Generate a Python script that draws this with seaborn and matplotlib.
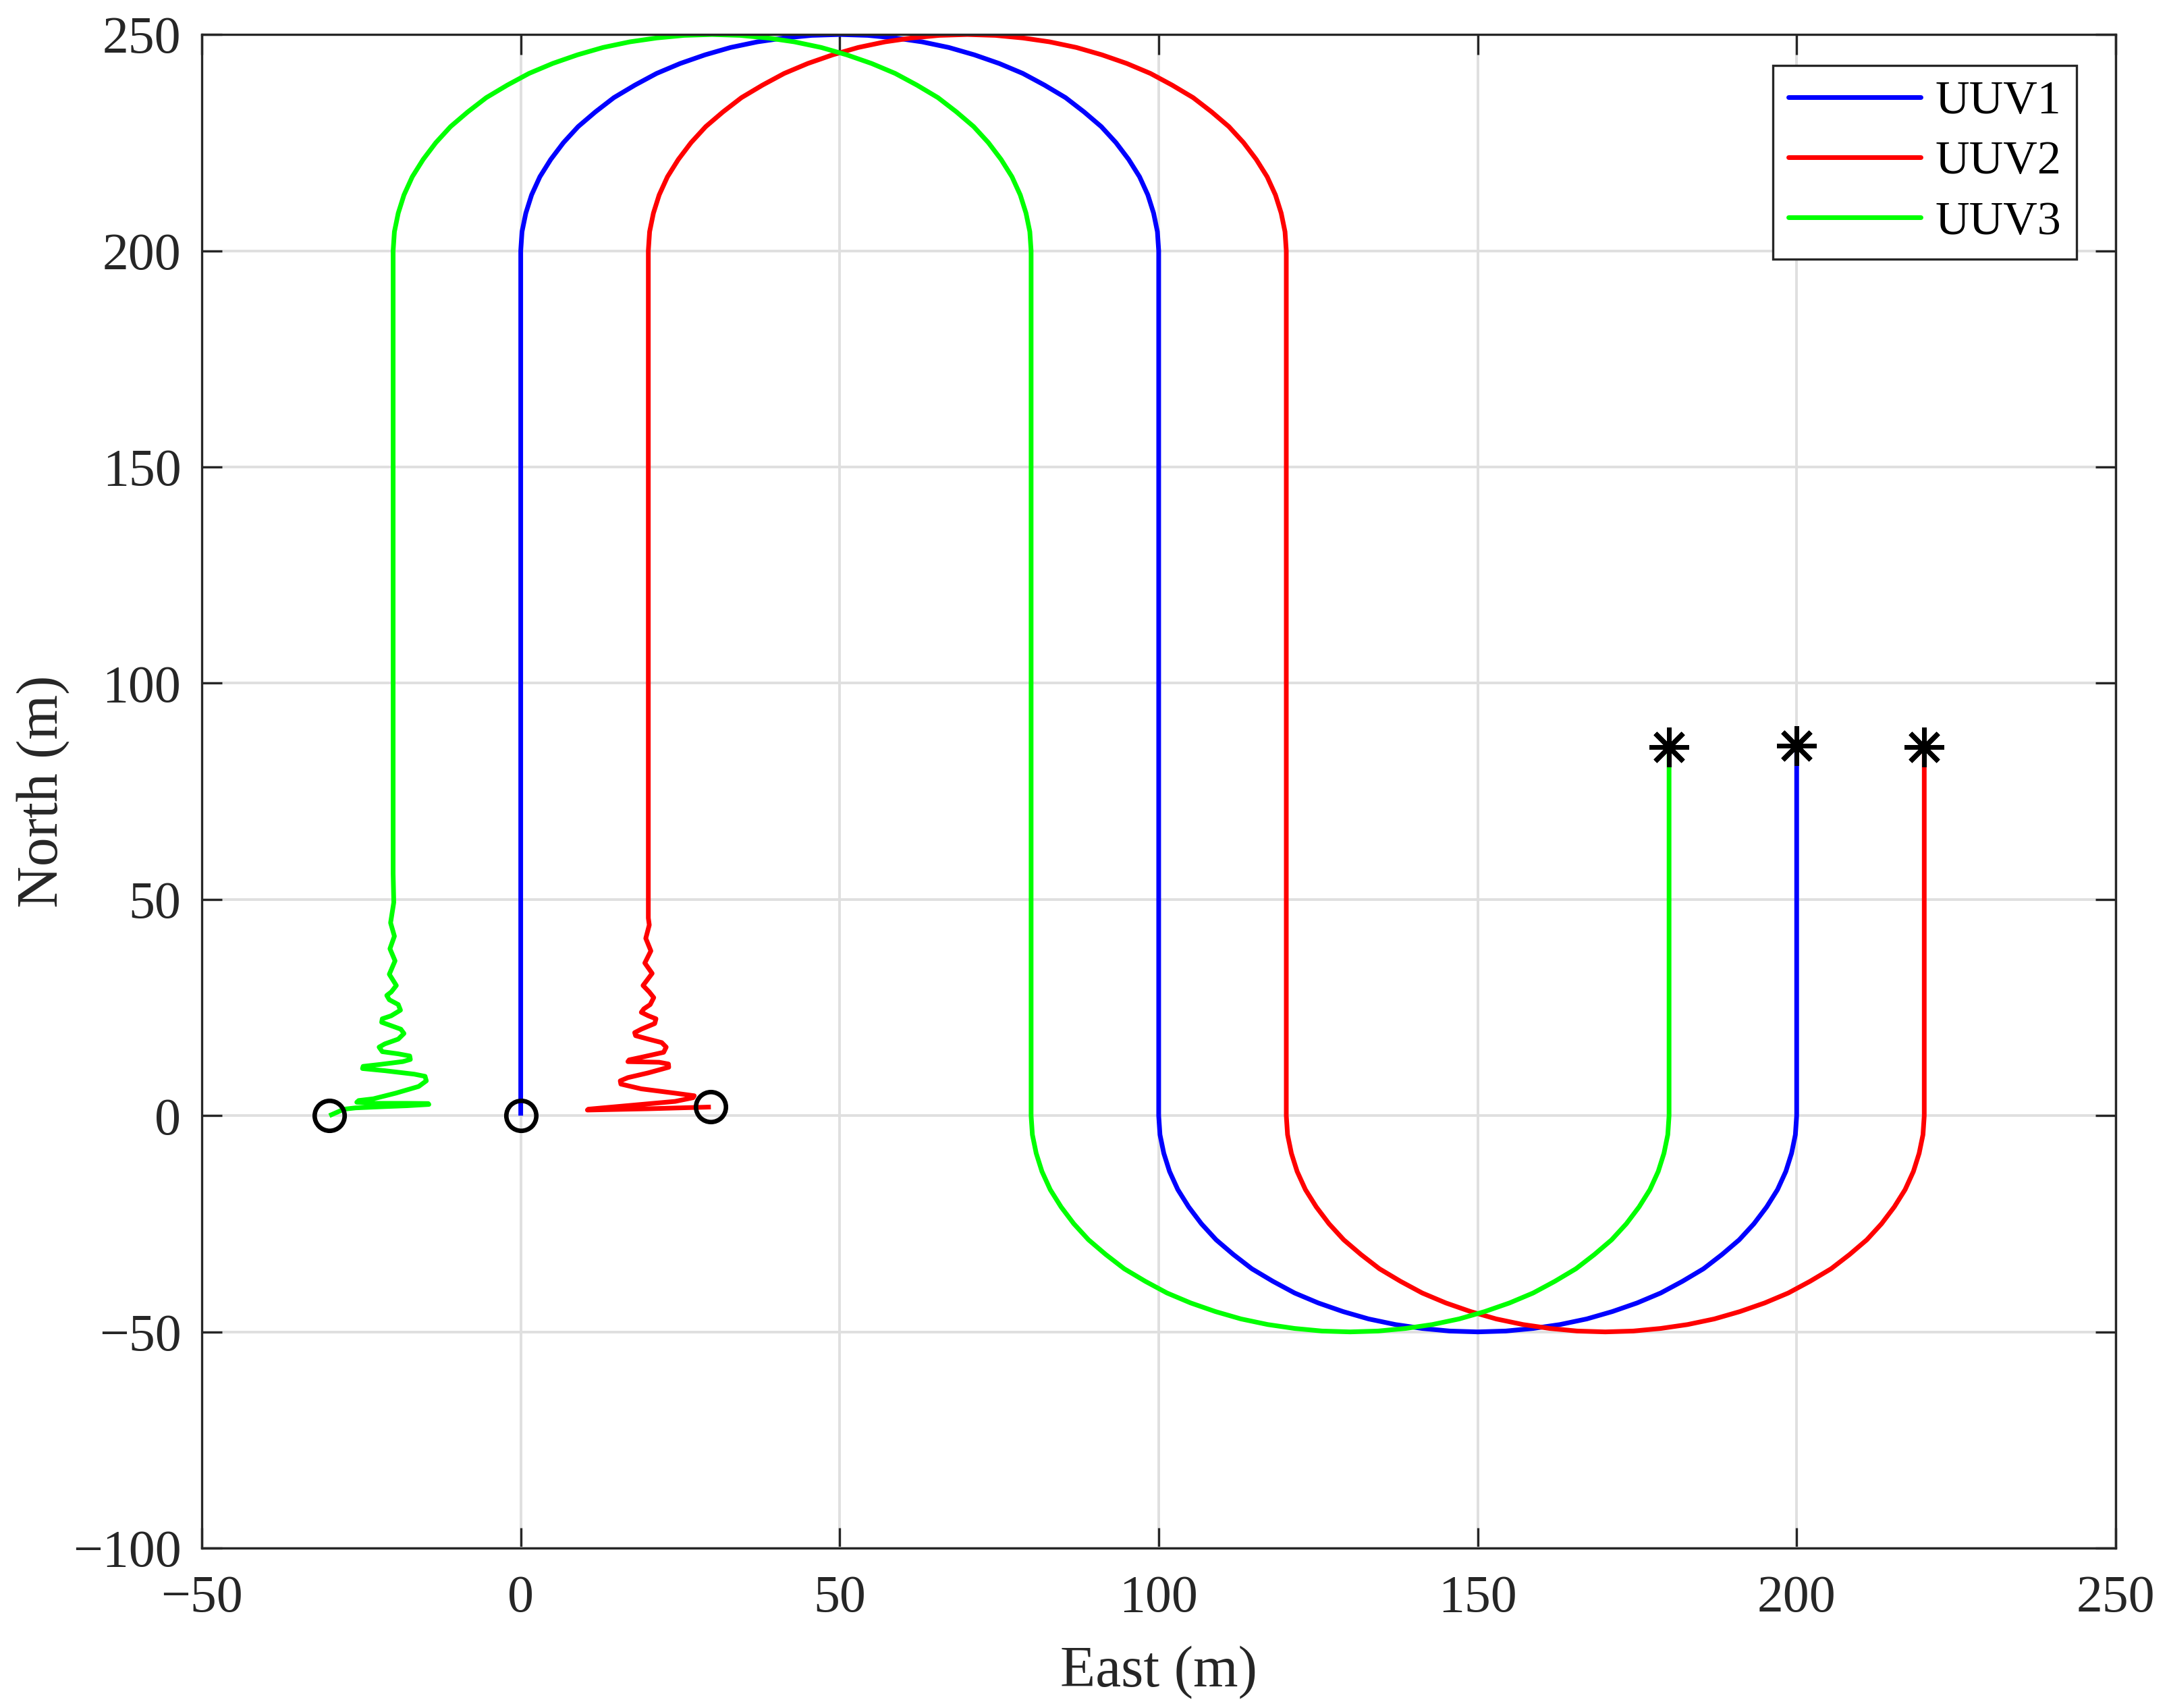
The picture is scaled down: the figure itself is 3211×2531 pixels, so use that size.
import matplotlib
matplotlib.use("Agg")
import matplotlib.pyplot as plt
import pandas as pd
import seaborn as sns

# trajectory points (East, North in metres)

# north values of the U-turns (same for all three vehicles)
top_turn_north = [200.0, 204.4, 208.7, 212.9, 217.1, 221.1, 225.0, 228.7, 232.1,
                  235.4, 238.3, 241.0, 243.3, 245.3, 247.0, 248.3, 249.2, 249.8,
                  250.0, 249.8, 249.2, 248.3, 247.0, 245.3, 243.3, 241.0, 238.3,
                  235.4, 232.1, 228.7, 225.0, 221.1, 217.1, 212.9, 208.7, 204.4,
                  200.0]
bottom_turn_north = [0.0, -4.4, -8.7, -12.9, -17.1, -21.1, -25.0, -28.7, -32.1,
                     -35.4, -38.3, -41.0, -43.3, -45.3, -47.0, -48.3, -49.2, -49.8,
                     -50.0, -49.8, -49.2, -48.3, -47.0, -45.3, -43.3, -41.0, -38.3,
                     -35.4, -32.1, -28.7, -25.0, -21.1, -17.1, -12.9, -8.7, -4.4,
                     0.0]

# UUV1
uuv1_lead_east = [0.0, 0.0]
uuv1_lead_north = [0.0, 100.0]
uuv1_top_east = [0.0, 0.2, 0.8, 1.7, 3.0, 4.7, 6.7, 9.0, 11.7, 14.6, 17.9, 21.3,
                 25.0, 28.9, 32.9, 37.1, 41.3, 45.6, 50.0, 54.4, 58.7, 62.9, 67.1,
                 71.1, 75.0, 78.7, 82.1, 85.4, 88.3, 91.0, 93.3, 95.3, 97.0, 98.3,
                 99.2, 99.8, 100.0]
uuv1_bottom_east = [100.0, 100.2, 100.8, 101.7, 103.0, 104.7, 106.7, 109.0, 111.7,
                    114.6, 117.9, 121.3, 125.0, 128.9, 132.9, 137.1, 141.3, 145.6,
                    150.0, 154.4, 158.7, 162.9, 167.1, 171.1, 175.0, 178.7, 182.1,
                    185.4, 188.3, 191.0, 193.3, 195.3, 197.0, 198.3, 199.2, 199.8,
                    200.0]
uuv1_end = (200.0, 85.5)

# UUV2
uuv2_lead_east = [29.8, 20.0, 10.45, 10.6, 18.9, 24.2, 27.0, 27.2, 24.2, 18.9,
                  15.7, 15.6, 16.8, 20.0, 23.2, 23.15, 21.7, 16.8, 17.0, 18.9,
                  22.4, 22.8, 22.1, 20.0, 18.0, 17.86, 18.9, 21.0, 21.2, 20.0,
                  18.9, 19.3, 20.3, 20.85, 20.15, 19.17, 20.6, 19.45, 20.4, 19.6,
                  20.15, 20.0]
uuv2_lead_north = [2.0, 1.6, 1.3, 1.5, 2.6, 3.3, 4.15, 4.6, 5.2, 6.2,
                   7.3, 8.05, 8.8, 9.9, 11.2, 11.95, 12.35, 12.5, 12.9, 13.5,
                   14.65, 15.85, 16.9, 17.7, 18.5, 19.2, 20.0, 21.3, 22.4, 23.1,
                   23.9, 24.7, 25.7, 27.3, 28.6, 30.1, 32.9, 35.3, 38.1, 41.0,
                   44.1, 45.7]
uuv2_top_east = [20.0, 20.2, 20.8, 21.7, 23.0, 24.7, 26.7, 29.0, 31.7, 34.6, 37.9,
                 41.3, 45.0, 48.9, 52.9, 57.1, 61.3, 65.6, 70.0, 74.4, 78.7, 82.9,
                 87.1, 91.1, 95.0, 98.7, 102.1, 105.4, 108.3, 111.0, 113.3, 115.3,
                 117.0, 118.3, 119.2, 119.8, 120.0]
uuv2_bottom_east = [120.0, 120.2, 120.8, 121.7, 123.0, 124.7, 126.7, 129.0, 131.7,
                    134.6, 137.9, 141.3, 145.0, 148.9, 152.9, 157.1, 161.3, 165.6,
                    170.0, 174.4, 178.7, 182.9, 187.1, 191.1, 195.0, 198.7, 202.1,
                    205.4, 208.3, 211.0, 213.3, 215.3, 217.0, 218.3, 219.2, 219.8,
                    220.0]
uuv2_end = (220.0, 85.3)

# UUV3
uuv3_lead_east = [-30.0, -27.7, -25.9, -21.3, -17.8, -14.4, -14.5, -17.8, -23.1,
                  -25.7, -25.4, -23.1, -19.6, -16.0, -14.8, -15.0, -16.7, -21.3,
                  -24.8, -24.7, -22.0, -18.5, -17.3, -17.4, -19.2, -21.7, -22.2,
                  -21.3, -19.2, -18.3, -18.8, -20.3, -21.8, -21.7, -20.3, -18.85,
                  -19.2, -20.6, -21.0, -20.3, -19.5, -20.6, -19.7, -20.5, -19.8,
                  -20.4, -19.9, -20.0]
uuv3_lead_north = [0.0, 1.5, 1.8, 2.1, 2.3, 2.6, 2.8, 2.85, 2.85,
                   3.1, 3.5, 3.9, 5.2, 6.75, 8.05, 9.1, 9.6, 10.4,
                   10.9, 11.4, 11.85, 12.5, 13.0, 13.8, 14.3, 14.8, 15.85,
                   16.6, 17.7, 19.0, 20.0, 20.8, 21.6, 22.4, 23.1, 24.4,
                   25.7, 26.8, 27.8, 28.6, 30.1, 32.7, 35.8, 38.6, 41.5,
                   44.6, 49.3, 56.0]
uuv3_top_east = [-20.0, -19.8, -19.2, -18.3, -17.0, -15.3, -13.3, -11.0, -8.3,
                 -5.4, -2.1, 1.3, 5.0, 8.9, 12.9, 17.1, 21.3, 25.6, 30.0, 34.4,
                 38.7, 42.9, 47.1, 51.1, 55.0, 58.7, 62.1, 65.4, 68.3, 71.0, 73.3,
                 75.3, 77.0, 78.3, 79.2, 79.8, 80.0]
uuv3_bottom_east = [80.0, 80.2, 80.8, 81.7, 83.0, 84.7, 86.7, 89.0, 91.7, 94.6,
                    97.9, 101.3, 105.0, 108.9, 112.9, 117.1, 121.3, 125.6, 130.0,
                    134.4, 138.7, 142.9, 147.1, 151.1, 155.0, 158.7, 162.1, 165.4,
                    168.3, 171.0, 173.3, 175.3, 177.0, 178.3, 179.2, 179.8, 180.0]
uuv3_end = (180.0, 85.3)

names = ['UUV1', 'UUV2', 'UUV3']
colors = ['#0000ff', '#ff0000', '#00ff00']

start_east = [0.0, 29.8, -30.0]
start_north = [0.0, 2.0, 0.0]
end_east = [uuv1_end[0], uuv2_end[0], uuv3_end[0]]
end_north = [uuv1_end[1], uuv2_end[1], uuv3_end[1]]

x_ticks = [-50, 0, 50, 100, 150, 200, 250]
y_ticks = [-100, -50, 0, 50, 100, 150, 200, 250]

paths = [
    (uuv1_lead_east, uuv1_lead_north, uuv1_top_east, uuv1_bottom_east, uuv1_end),
    (uuv2_lead_east, uuv2_lead_north, uuv2_top_east, uuv2_bottom_east, uuv2_end),
    (uuv3_lead_east, uuv3_lead_north, uuv3_top_east, uuv3_bottom_east, uuv3_end),
]
frames = []
for name, (le, ln, te, be, end) in zip(names, paths):
    e = le + te + be + [end[0]]
    n = ln + top_turn_north + bottom_turn_north + [end[1]]
    frames.append(pd.DataFrame({'East': e, 'North': n, 'UUV': name}))
df = pd.concat(frames, ignore_index=True)

sns.set_style('ticks')
plt.rcParams['font.family'] = ['Liberation Serif', 'DejaVu Serif']
plt.rcParams['axes.unicode_minus'] = True

dark = '#262626'
lw = 2.5
fig = plt.figure(figsize=(3211 / 200, 2531 / 200), dpi=200)
ax = fig.add_axes([0.0931, 0.0936, 0.9763 - 0.0931, 0.9798 - 0.0936])

sns.lineplot(data=df, x='East', y='North', hue='UUV', palette=colors,
             sort=False, estimator=None, units='UUV', ax=ax, legend=False)
for line in ax.get_lines():
    line.set_linewidth(lw)
    line.set_solid_joinstyle('round')
    line.set_solid_capstyle('butt')

# start (o) and end (*) markers
ax.plot(start_east, start_north, linestyle='none', marker='o', markersize=16,
        markerfacecolor='none', markeredgecolor='black', markeredgewidth=2.4)
ax.plot(end_east, end_north, linestyle='none', marker=(8, 2, 0), markersize=21,
        color='black', markeredgewidth=2.5)

ax.set_xlim(-50, 250)
ax.set_ylim(-100, 250)
ax.set_xticks(x_ticks)
ax.set_yticks(y_ticks)
ax.grid(True, color='#dfdfdf', linewidth=1.4)
ax.set_axisbelow(True)

for s in ax.spines.values():
    s.set_visible(True)
    s.set_color(dark)
    s.set_linewidth(1.2)

ax.tick_params(axis='both', direction='in', length=10.8, width=1.2,
               top=True, right=True, colors=dark, labelsize=28,
               labelcolor=dark)
ax.tick_params(axis='x', pad=14)
ax.tick_params(axis='y', pad=11)

ax.set_xlabel('East (m)', fontsize=30.8, color=dark, labelpad=12)
ax.set_ylabel('North (m)', fontsize=30.8, color=dark, labelpad=1)

handles = [plt.Line2D([], [], color=c, linewidth=lw) for c in colors]
leg = ax.legend(handles, names, loc='upper right',
                bbox_to_anchor=(0.9795, 0.9796), borderaxespad=0,
                fontsize=25.2, frameon=True, fancybox=False,
                handlelength=2.8, handletextpad=0.31, labelspacing=0.36,
                borderpad=0.32)
leg.get_frame().set_edgecolor(dark)
leg.get_frame().set_linewidth(1.2)
leg.get_frame().set_alpha(1)
for t in leg.get_texts():
    t.set_color('black')

fig.savefig('out.png', dpi=200)
